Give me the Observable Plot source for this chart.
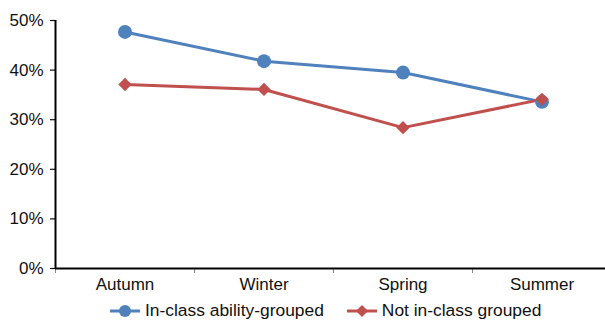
<!DOCTYPE html>
<html>
<head>
<meta charset="utf-8">
<script src="https://cdn.jsdelivr.net/npm/d3@7"></script>
<script src="https://cdn.jsdelivr.net/npm/@observablehq/plot@0.6"></script>
<style>
  html, body { margin: 0; padding: 0; background: #fff; overflow: hidden; }
  body { width: 605px; height: 321px; font-family: "Liberation Sans", Arial, sans-serif; }
  #chart svg { display: block; overflow: hidden; }
  .legend { display: flex; justify-content: flex-start; align-items: center; height: 21px; font-size: 17.4px; color: #111; padding-left: 110px; }
  .legend .item { display: flex; align-items: center; margin-right: 23px; }
  .legend svg { margin-right: 5px; }
</style>
</head>
<body>
<div id="chart"></div>
<div class="legend" id="legend"></div>
<script>
// Seasons on the horizontal axis
const seasons = ["Autumn", "Winter", "Spring", "Summer"];
// Share of pupils in each group, per season
const abilityGrouped = [0.477, 0.418, 0.395, 0.336];
const notGrouped = [0.371, 0.361, 0.284, 0.341];
const seriesNames = ["In-class ability-grouped", "Not in-class grouped"];
const yTicks = [0, 0.1, 0.2, 0.3, 0.4, 0.5];

const colors = ["#4F81BD", "#C0504D"];
const symbols = ["circle", "diamond2"];

const rows = [];
seasons.forEach((s, i) => {
  rows.push({season: s, value: abilityGrouped[i], series: seriesNames[0]});
  rows.push({season: s, value: notGrouped[i], series: seriesNames[1]});
});

const width = 605, height = 300;
const marginLeft = 55, marginRight = -6, marginTop = 20, marginBottom = 32;
const step = (width - marginLeft - marginRight) / seasons.length;

const chart = Plot.plot({
  width, height, marginLeft, marginRight, marginTop, marginBottom,
  style: {fontFamily: "Liberation Sans, Arial, sans-serif", fontSize: "17px", color: "#111", background: "#fff"},
  x: {type: "band", domain: seasons, padding: 0, label: null},
  y: {domain: [0, 0.5], label: null},
  color: {domain: seriesNames, range: colors},
  symbol: {domain: seriesNames, range: symbols},
  marks: [
    // category labels
    Plot.axisX({tickSize: 0, tickPadding: 9, label: null, fontSize: 17}),
    // tick marks on the boundaries between categories
    Plot.axisX({tickSize: 5, text: null, dx: -step / 2, stroke: "#888", strokeWidth: 1, label: null}),
    Plot.axisY({ticks: yTicks, tickFormat: d3.format(".0%"), tickSize: 5, tickPadding: 7, label: null, fontSize: 17, strokeWidth: 1.2}),
    // axis lines
    Plot.ruleY([0], {stroke: "#000", strokeWidth: 2}),
    Plot.ruleX([seasons[0]], {y1: 0, y2: 0.5, dx: -step / 2, stroke: "#000", strokeWidth: 2}),
    Plot.line(rows, {x: "season", y: "value", z: "series", stroke: "series", strokeWidth: 3}),
    Plot.dot(rows.filter(d => d.series === seriesNames[0]), {x: "season", y: "value", symbol: "series", fill: "series", r: 7}),
    Plot.dot(rows.filter(d => d.series === seriesNames[1]), {x: "season", y: "value", symbol: "series", fill: "series", r: 6})
  ]
});
document.getElementById("chart").appendChild(chart);

// Legend: a line swatch with its marker, then the series name
const legend = document.getElementById("legend");
seriesNames.forEach((name, i) => {
  const item = document.createElement("div");
  item.className = "item";
  const marker = symbols[i] === "circle"
    ? `<circle cx="15" cy="7" r="6" fill="${colors[i]}"/>`
    : `<path d="M15,1 L21,7 L15,13 L9,7 Z" fill="${colors[i]}"/>`;
  item.innerHTML = `<svg width="30" height="14"><line x1="0" y1="7" x2="30" y2="7" stroke="${colors[i]}" stroke-width="3"/>${marker}</svg><span>${name}</span>`;
  legend.appendChild(item);
});
</script>
</body>
</html>
